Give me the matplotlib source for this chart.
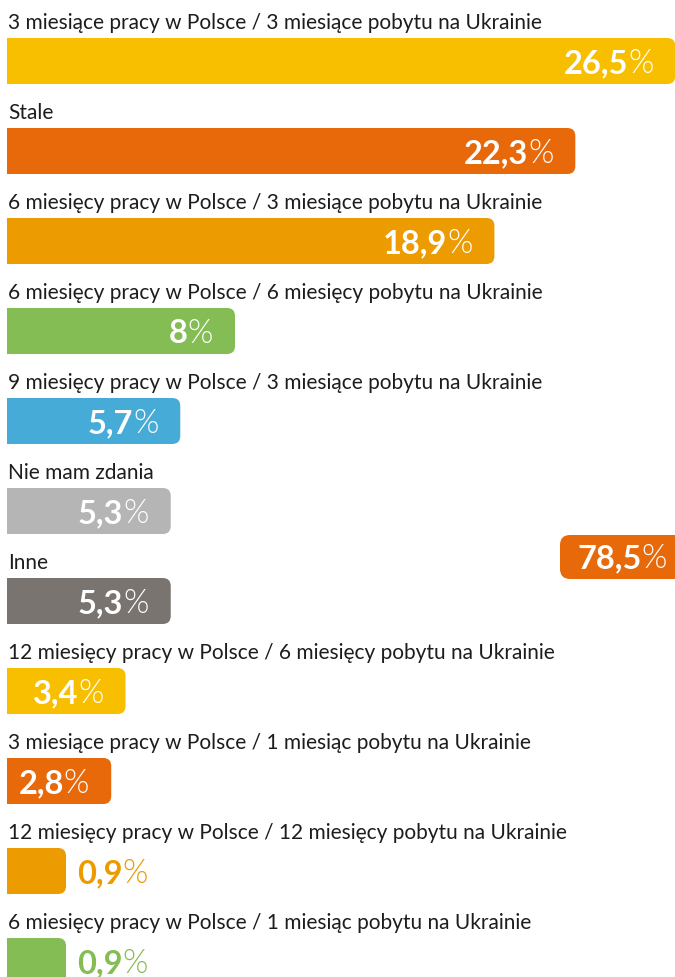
import matplotlib
matplotlib.use('Agg')
import matplotlib.pyplot as plt
from matplotlib.patches import FancyBboxPatch

# ---------------- data ----------------
categories = [
    "3 miesiące pracy w Polsce / 3 miesiące pobytu na Ukrainie",
    "Stale",
    "6 miesięcy pracy w Polsce / 3 miesiące pobytu na Ukrainie",
    "6 miesięcy pracy w Polsce / 6 miesięcy pobytu na Ukrainie",
    "9 miesięcy pracy w Polsce / 3 miesiące pobytu na Ukrainie",
    "Nie mam zdania",
    "Inne",
    "12 miesięcy pracy w Polsce / 6 miesięcy pobytu na Ukrainie",
    "3 miesiące pracy w Polsce / 1 miesiąc pobytu na Ukrainie",
    "12 miesięcy pracy w Polsce / 12 miesięcy pobytu na Ukrainie",
    "6 miesięcy pracy w Polsce / 1 miesiąc pobytu na Ukrainie",
]
values = [26.5, 22.3, 18.9, 8.0, 5.7, 5.3, 5.3, 3.4, 2.8, 0.9, 0.9]
value_labels = ["26,5", "22,3", "18,9", "8", "5,7", "5,3", "5,3", "3,4", "2,8", "0,9", "0,9"]
colors = ["#F8BF00", "#E8690A", "#EC9B00", "#84BD53", "#47ABD7",
          "#B5B5B5", "#79746F", "#F8BF00", "#E8690A", "#EC9B00", "#84BD53"]
callout_label = "78,5"
callout_color = "#E8690A"

# ---------------- layout ----------------
W, H = 675, 977
PX_PER_UNIT = 23.8
ZERO_PX = 44.6
BAR_LEFT_PX = 7
ROW_PX = 90
FIRST_CENTER_PX = 61
BAR_H_PX = 46
RADIUS_PX = 8

def xu(px):
    return (px - ZERO_PX) / PX_PER_UNIT

def yu(px):
    return (px - FIRST_CENTER_PX) / ROW_PX

plt.rcParams['font.family'] = ['Lato', 'DejaVu Sans']

fig = plt.figure(figsize=(W / 100, H / 100), dpi=100)
ax = fig.add_axes([0, 0, 1, 1])
ax.set_xlim(xu(0), xu(W))
ax.set_ylim(yu(H), yu(0))
ax.axis('off')

h = BAR_H_PX / ROW_PX
r = RADIUS_PX / PX_PER_UNIT
aspect = PX_PER_UNIT / ROW_PX
left = xu(BAR_LEFT_PX)

fig.canvas.draw()
renderer = fig.canvas.get_renderer()

def text_width_units(t):
    bb = t.get_window_extent(renderer=renderer)
    return bb.width / PX_PER_UNIT

NUM_SIZE = 23.5
LAB_SIZE = 15
PCT_WEIGHT = 300
TEXT_COLOR = "#1d1d1b"

for i, (cat, v, lab, c) in enumerate(zip(categories, values, value_labels, colors)):
    # square-left part
    ax.barh(i, v - left - 2 * r, left=left, height=h, color=c, linewidth=0)
    # rounded part
    p = FancyBboxPatch((left, i - h / 2), v - left, h,
                       boxstyle=f"round,pad=0,rounding_size={r}",
                       mutation_aspect=aspect, facecolor=c, edgecolor='none')
    ax.add_patch(p)
    # category label
    ax.text(xu(8), i - (BAR_H_PX / 2 + 9) / ROW_PX, cat, fontsize=LAB_SIZE,
            color=TEXT_COLOR, ha='left', va='baseline')
    # value label
    base_y = i + 12 / ROW_PX
    num = ax.text(0, base_y, lab, fontsize=NUM_SIZE, fontweight='bold',
                  color='white', ha='left', va='baseline')
    pct = ax.text(0, base_y, "%", fontsize=NUM_SIZE, fontweight=PCT_WEIGHT,
                  color='white', ha='left', va='baseline')
    wn = text_width_units(num)
    wp = text_width_units(pct)
    bar_w = v - left
    pad_in = 22 / PX_PER_UNIT
    if wn + wp + pad_in + 8 / PX_PER_UNIT < bar_w:
        xend = v - pad_in
        pct.set_x(xend - wp)
        num.set_x(xend - wp - wn)
    else:
        x0 = v + 11 / PX_PER_UNIT
        num.set_x(x0)
        pct.set_x(x0 + wn)
        num.set_color(c)
        pct.set_color(c)

# call-out box on the right
cy0, cy1 = yu(535), yu(579)
cx0 = xu(560)
box = FancyBboxPatch((cx0, cy0), xu(W + 40) - cx0, cy1 - cy0,
                     boxstyle=f"round,pad=0,rounding_size={10 / PX_PER_UNIT}",
                     mutation_aspect=aspect, facecolor=callout_color,
                     edgecolor='none', clip_on=True)
ax.add_patch(box)
cb = yu(568)
cpct = ax.text(0, cb, "%", fontsize=NUM_SIZE, fontweight=PCT_WEIGHT, color='white',
               ha='left', va='baseline')
cnum = ax.text(0, cb, callout_label, fontsize=NUM_SIZE, fontweight='bold',
               color='white', ha='left', va='baseline')
wp = text_width_units(cpct)
wn = text_width_units(cnum)
cpct.set_x(xu(667) - wp)
cnum.set_x(xu(667) - wp - wn)

fig.savefig("out.png", dpi=100, facecolor='white')
